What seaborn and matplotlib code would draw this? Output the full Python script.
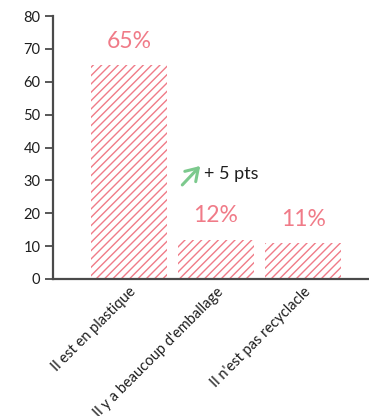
import matplotlib
matplotlib.use("Agg")
import matplotlib.pyplot as plt
import seaborn as sns
import pandas as pd

categories = ["Il est en plastique", "Il y a beaucoup d'emballage", "Il n'est pas recyclacle"]
values = [65, 12, 11]
value_labels = ["65%", "12%", "11%"]
y_ticks = [0, 10, 20, 30, 40, 50, 60, 70, 80]
trend_text = "+ 5 pts"

pink = "#f07b88"
green = "#7cc98d"
ink = "#1e1e1e"
axis_grey = "#4a4a4a"

sns.set_theme(style="white")
plt.rcParams["font.family"] = ["Lato", "DejaVu Sans"]
plt.rcParams["hatch.linewidth"] = 1.0

df = pd.DataFrame({"cat": categories, "val": values})

fig = plt.figure(figsize=(3.69, 4.16), dpi=100)
ax = fig.add_axes([53 / 369, 137 / 416, 1 - 53 / 369, 263 / 416])

sns.barplot(data=df, x="cat", y="val", ax=ax, width=0.87, color="white")
for p in ax.patches:
    p.set_facecolor("none")
    p.set_edgecolor(pink)
    p.set_linewidth(0)
    p.set_hatch("////")

for i, (v, lab) in enumerate(zip(values, value_labels)):
    ax.text(i, v + 4.0, lab, ha="center", va="bottom", color=pink, fontsize=16.5)

# trend arrow with its annotation
ax.annotate("", xy=(0.84, 35.0), xytext=(0.59, 28.0),
            arrowprops=dict(arrowstyle="->,head_length=0.7,head_width=0.45", color=green, lw=2.2))
ax.text(0.86, 31.8, trend_text, ha="left", va="center", color=ink, fontsize=13)

ax.set_ylim(0, 80)
ax.set_xlim(-0.874, 2.758)
ax.set_yticks(y_ticks)
ax.set_xlabel("")
ax.set_ylabel("")
ax.tick_params(axis="y", direction="out", length=6, width=1.3, color=axis_grey,
               labelsize=10.5, labelcolor=ink, left=True, pad=3)
ax.tick_params(axis="x", length=0, labelsize=10.5, labelcolor=ink, pad=4)
plt.setp(ax.get_xticklabels(), rotation=45, ha="right", rotation_mode="anchor")

for s in ["top", "right"]:
    ax.spines[s].set_visible(False)
for s in ["left", "bottom"]:
    ax.spines[s].set_color(axis_grey)
    ax.spines[s].set_linewidth(1.6)

fig.savefig("out.png", dpi=100)
